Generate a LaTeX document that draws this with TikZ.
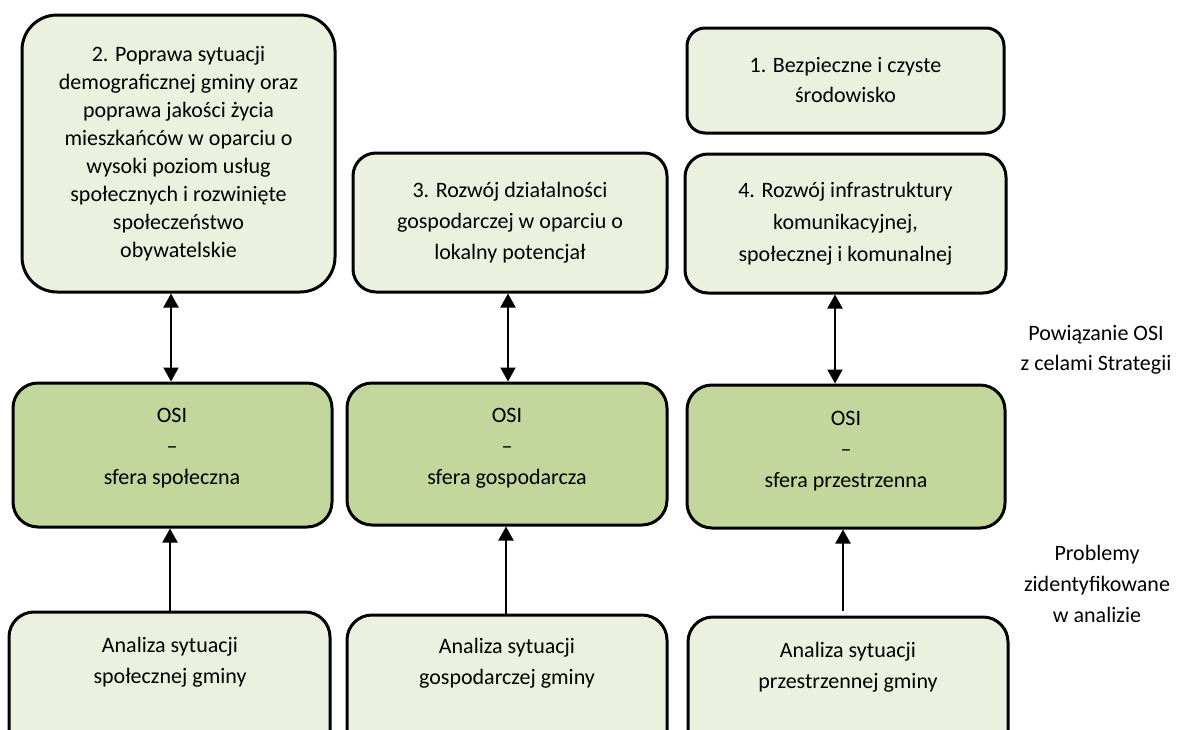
\documentclass[tikz,border=0pt]{standalone}
\usepackage{fontspec}
\setmainfont{Carlito}
\usetikzlibrary{arrows.meta}
\definecolor{lightfill}{HTML}{EBF1DE}
\definecolor{osifill}{HTML}{C3D69B}
\begin{document}
\begin{tikzpicture}[x=1pt,y=-1pt,
  box/.style={draw=black, line width=3pt, fill=lightfill, inner sep=0pt, align=center, font=\fontsize{22}{31}\selectfont},
  osibox/.style={box, fill=osifill},
  txt/.style={align=center, inner sep=0pt, font=\fontsize{22}{31}\selectfont},
  link/.style={line width=2pt, {Triangle[width=15pt,length=14pt]}-{Triangle[width=15pt,length=14pt]}},
  feed/.style={line width=2pt, -{Triangle[width=15pt,length=14pt]}}]
\useasboundingbox (0,0) rectangle (1179,729);
% goals
\node[box, minimum width=313pt, minimum height=277pt, rounded corners=35pt, font=\fontsize{22}{28}\selectfont] (g2) at (178.5,153.5)
  {2. Poprawa sytuacji\\demograficznej gminy oraz\\poprawa jakości życia\\mieszkańców w oparciu o\\wysoki poziom usług\\społecznych i rozwinięte\\społeczeństwo\\obywatelskie};
\node[box, minimum width=314pt, minimum height=139pt, rounded corners=23pt] (g3) at (510,222.5)
  {3. Rozwój działalności\\gospodarczej w oparciu o\\lokalny potencjał};
\node[box, minimum width=317pt, minimum height=105pt, rounded corners=18pt, font=\fontsize{22}{30}\selectfont] (g1) at (845.5,80.5)
  {1. Bezpieczne i czyste\\środowisko};
\node[box, minimum width=321pt, minimum height=139pt, rounded corners=23pt, font=\fontsize{22}{32}\selectfont] (g4) at (845.5,223.5)
  {4. Rozwój infrastruktury\\komunikacyjnej,\\społecznej i komunalnej};
% OSI boxes
\node[osibox, minimum width=319pt, minimum height=144pt, rounded corners=25pt] (osi1) at (172.5,455) {};
\node[osibox, minimum width=320pt, minimum height=142pt, rounded corners=25pt] (osi2) at (507,454) {};
\node[osibox, minimum width=318pt, minimum height=143pt, rounded corners=25pt] (osi3) at (846,456.5) {};
\node[txt] (o1t) at (172,448) {OSI\\–\\sfera społeczna};
\node[txt] (o2t) at (507,448) {OSI\\–\\sfera gospodarcza};
\node[txt] (o3t) at (846,451) {OSI\\–\\sfera przestrzenna};
% analysis boxes
\node[box, minimum width=321pt, minimum height=148pt, rounded corners=25pt] (an1) at (169.5,686) {};
\node[box, minimum width=320pt, minimum height=148pt, rounded corners=25pt] (an2) at (507,689) {};
\node[box, minimum width=320pt, minimum height=148pt, rounded corners=25pt] (an3) at (848,691) {};
\node[txt] (a1t) at (170,662) {Analiza sytuacji\\społecznej gminy};
\node[txt] (a2t) at (507,663) {Analiza sytuacji\\gospodarczej gminy};
\node[txt] (a3t) at (848,667) {Analiza sytuacji\\przestrzennej gminy};
% side labels
\node[txt, font=\fontsize{22}{30}\selectfont] (lab1) at (1096,350) {Powiązanie OSI\\z celami Strategii};
\node[txt] (lab2) at (1097,584) {Problemy\\zidentyfikowane\\w analizie};
% connectors
\draw[link] ([xshift=-1.5pt]osi1.north |- g2.south) -- ([xshift=-1.5pt]osi1.north);
\draw[link] ([xshift=1pt]osi2.north |- g3.south) -- ([xshift=1pt]osi2.north);
\draw[link] ([xshift=-11pt]osi3.north |- g4.south) -- ([xshift=-11pt]osi3.north);
\draw[feed] ([xshift=-2.5pt]osi1.south |- an1.north) -- ([xshift=-2.5pt]osi1.south);
\draw[feed] ([xshift=-1pt]osi2.south |- an2.north) -- ([xshift=-1pt]osi2.south);
\draw[feed] ([xshift=-3pt,yshift=5pt]osi3.south |- an3.north) -- ([xshift=-3pt]osi3.south);
\end{tikzpicture}
\end{document}
